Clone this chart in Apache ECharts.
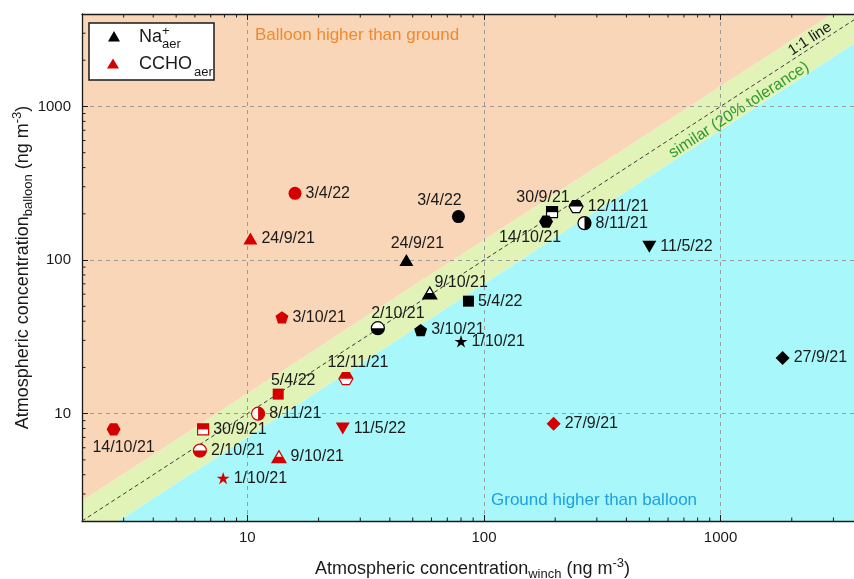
<!DOCTYPE html>
<html>
<head>
<meta charset="utf-8">
<script src="https://cdn.jsdelivr.net/npm/echarts@6/dist/echarts.min.js"></script>
<style>
html, body { margin: 0; padding: 0; background: #fff; }
#chart { width: 854px; height: 579px; }
</style>
</head>
<body>
<div id="chart"></div>
<script>
// sampling days, same order in every array below
var dates = ['24/9/21', '27/9/21', '30/9/21', '1/10/21', '2/10/21', '3/10/21', '9/10/21',
             '14/10/21', '8/11/21', '12/11/21', '3/4/22', '5/4/22', '11/5/22'];

// Na+ (ng m-3): winch vs balloon
var naWinch   = [47, 1830, 194, 80, 35.6, 54, 59, 183, 266, 245, 78, 86, 500];
var naBalloon = [100, 23, 205, 29.5, 36, 35, 61, 178, 174, 223, 192, 54, 122];

// CCHO (ng m-3): winch vs balloon
var cchoWinch   = [10.3, 197, 6.5, 7.9, 6.3, 14.0, 13.6, 2.72, 11.1, 26.1, 15.9, 13.5, 25.3];
var cchoBalloon = [138, 8.6, 7.9, 3.8, 5.75, 42.4, 5.25, 7.9, 10.0, 16.9, 272, 13.4, 8.0];

var axisMin = 2, axisMax = 4000;
var minorTicks = [3, 4, 5, 6, 7, 8, 9, 20, 30, 40, 50, 60, 70, 80, 90,
                  200, 300, 400, 500, 600, 700, 800, 900, 2000, 3000];
var bandUpper = 1.35, bandLower = 0.70;   // "similar" band around 1:1

var chart = echarts.init(document.getElementById('chart'));
var font = 'Liberation Sans, Arial, Helvetica, sans-serif';
var ink = '#1a1a1a';
var red = '#d40000';

// symbol paths, all in a 100x100 box (corner anchors keep the box)
var box = 'M0 0L0 0M100 100L100 100';
var hexPath = 'path://' + box + 'M100 50L75 93.3L25 93.3L0 50L25 6.7L75 6.7Z';
var pentPath = 'path://' + box + 'M50 3L99.5 39L80.6 97L19.4 97L0.5 39Z';
var starPath = 'path://' + box + 'M50 2L62 38L100 38L69 60L81 97L50 74L19 97L31 60L0 38L38 38Z';

var shapes = {
  circle:       { base: 'circle', size: 13 },
  rect:         { base: 'rect', size: 11 },
  triangle:     { base: 'triangle', size: [14, 12] },
  triangleDown: { base: 'triangle', size: [14, 12], rotate: 180 },
  diamond:      { base: 'diamond', size: 14 },
  star:         { base: starPath, size: 13 },
  pentagon:     { base: pentPath, size: 13 },
  hexagon:      { base: hexPath, size: 14 },
  halfRect:     { base: 'rect', size: 11, half: 'path://' + box + 'M0 0L100 0L100 50L0 50Z' },
  halfCircleB:  { base: 'circle', size: 13, half: 'path://' + box + 'M0 50A50 50 0 0 0 100 50Z' },
  halfCircleR:  { base: 'circle', size: 13, half: 'path://' + box + 'M50 0A50 50 0 0 1 50 100Z' },
  halfTriangle: { base: 'triangle', size: [14, 12], half: 'path://' + box + 'M25 50L75 50L100 100L0 100Z' },
  halfHexagon:  { base: hexPath, size: 14, half: 'path://' + box + 'M100 50L0 50L25 6.7L75 6.7Z' }
};

var markerOf = {
  '24/9/21': 'triangle', '27/9/21': 'diamond', '30/9/21': 'halfRect', '1/10/21': 'star',
  '2/10/21': 'halfCircleB', '3/10/21': 'pentagon', '9/10/21': 'halfTriangle',
  '14/10/21': 'hexagon', '8/11/21': 'halfCircleR', '12/11/21': 'halfHexagon',
  '3/4/22': 'circle', '5/4/22': 'rect', '11/5/22': 'triangleDown'
};

// label placement where it is not simply to the right
var labelPlace = {
  na: {
    '3/4/22':   { position: 'top', distance: 1, offset: [-19, 0] },
    '24/9/21':  { position: 'top', distance: 2, offset: [11, 0] },
    '9/10/21':  { position: 'right', distance: 4, offset: [-7, -10] },
    '2/10/21':  { position: 'top', distance: 0, offset: [20, 0] },
    '30/9/21':  { position: 'top', distance: 0, offset: [-9, 0] },
    '14/10/21': { position: 'bottom', distance: 1, offset: [-16, 0] }
  },
  ccho: {
    '12/11/21': { position: 'top', distance: 0, offset: [12, 0] },
    '5/4/22':   { position: 'top', distance: 0, offset: [15, 0] },
    '14/10/21': { position: 'bottom', distance: 3, offset: [10, 0] }
  }
};

function markerSeries(key, name, color, xs, ys) {
  var base = [], halves = [];
  dates.forEach(function (d, i) {
    var s = shapes[markerOf[d]];
    var lp = labelPlace[key][d] || { position: 'right', distance: 4, offset: [0, 0] };
    base.push({
      name: d,
      value: [xs[i], ys[i]],
      symbol: s.base,
      symbolSize: s.size,
      symbolRotate: s.rotate || 0,
      itemStyle: s.half ? { color: '#fff', borderColor: color, borderWidth: 1.2, opacity: 1 }
                        : { color: color, opacity: 1 },
      label: { position: lp.position, distance: lp.distance, offset: lp.offset }
    });
    if (s.half) {
      halves.push({ name: d, value: [xs[i], ys[i]], symbol: s.half, symbolSize: s.size });
    }
  });
  return [{
    type: 'scatter', name: name, data: base, z: 4,
    itemStyle: { opacity: 1 },
    label: { show: true, formatter: '{b}', color: ink, fontSize: 16, fontFamily: font }
  }, {
    type: 'scatter', name: name + ' fill', data: halves, z: 5, silent: true,
    itemStyle: { color: color, opacity: 1 }
  }];
}

var regionColors = ['#fad6b9', '#e1f3b7', '#a8f7fa'];
function regionPolygon(i) {
  var up = axisMax / bandUpper, lo = axisMin / bandLower;
  if (i === 0) return [[axisMin, axisMin * bandUpper], [up, axisMax], [axisMin, axisMax]];
  if (i === 1) return [[axisMin, axisMin], [axisMin, axisMin * bandUpper], [up, axisMax],
                       [axisMax, axisMax], [axisMax, axisMax * bandLower], [lo, axisMin]];
  return [[lo, axisMin], [axisMax, axisMax * bandLower], [axisMax, axisMin]];
}

var tickMinor = 3.5;
function tickLine(x1, y1, x2, y2) {
  return { type: 'line', shape: { x1: x1, y1: y1, x2: x2, y2: y2 }, style: { stroke: ink, lineWidth: 1 } };
}

var nameRich = {
  sub: { fontSize: 13, lineHeight: 13, verticalAlign: 'bottom', fontFamily: font, color: ink },
  sup: { fontSize: 13, lineHeight: 13, verticalAlign: 'top', fontFamily: font, color: ink }
};

function commonAxis() {
  return {
    type: 'log', logBase: 10, min: axisMin, max: axisMax,
    axisLine: { show: true, lineStyle: { color: ink, width: 1.3 } },
    axisTick: { show: true, inside: true, length: 6, lineStyle: { color: ink, width: 1 } },
    axisLabel: {
      showMinLabel: false, showMaxLabel: false, fontSize: 15, color: ink, fontFamily: font,
      formatter: function (v) { return String(Math.round(v)); }
    },
    splitLine: { show: true, showMinLine: false, showMaxLine: false,
                 lineStyle: { type: [4, 4], color: '#9a9a9a', width: 1 } }
  };
}

var xMain = commonAxis();
xMain.position = 'bottom';
xMain.axisLabel.margin = 9;
xMain.name = 'Atmospheric concentration{sub|winch} (ng m{sup|-3})';
xMain.nameLocation = 'middle';
xMain.nameGap = 36;
xMain.nameMoveOverlap = false;
xMain.nameTextStyle = { fontSize: 18, lineHeight: 24, fontFamily: font, color: ink, rich: nameRich };

var xTop = commonAxis();
xTop.position = 'top';
xTop.axisLabel = { show: false };
xTop.splitLine = { show: false };

var yMain = commonAxis();
yMain.position = 'left';
yMain.axisLabel.margin = 11;
yMain.name = 'Atmospheric concentration{sub|balloon} (ng m{sup|-3})';
yMain.nameLocation = 'middle';
yMain.nameRotate = 90;
yMain.nameGap = 47;
yMain.nameMoveOverlap = false;
yMain.nameTextStyle = { fontSize: 18, lineHeight: 24, fontFamily: font, color: ink, rich: nameRich };

var series = [{
  type: 'custom', name: 'regions', z: -1, silent: true,
  data: regionColors.map(function () { return [10, 10]; }),
  renderItem: function (params, api) {
    var pts = regionPolygon(params.dataIndex).map(function (p) { return api.coord(p); });
    return { type: 'polygon', shape: { points: pts }, style: { fill: regionColors[params.dataIndex] } };
  }
}, {
  type: 'line', name: '1:1', silent: true, z: 3, symbol: 'none',
  data: [[axisMin, axisMin], [axisMax, axisMax]],
  lineStyle: { type: [4, 3], color: '#3a3a3a', width: 1 }
}, {
  type: 'custom', name: 'minor ticks', z: 6, silent: true,
  data: minorTicks.map(function (v) { return [v, v]; }),
  renderItem: function (params, api) {
    var v = api.value(0);
    var b = api.coord([v, axisMin]);
    var t = api.coord([v, axisMax]);
    var l = api.coord([axisMin, v]);
    return { type: 'group', children: [
      tickLine(b[0], b[1], b[0], b[1] - tickMinor),
      tickLine(t[0], t[1], t[0], t[1] + tickMinor),
      tickLine(l[0], l[1], l[0] + tickMinor, l[1])
    ] };
  }
}];
series = series.concat(markerSeries('na', 'Na+aer', '#000000', naWinch, naBalloon));
series = series.concat(markerSeries('ccho', 'CCHOaer', red, cchoWinch, cchoBalloon));

var angle = Math.atan(153.6 / 236.4);

var option = {
  animation: false,
  backgroundColor: '#ffffff',
  grid: { left: 82, right: -9, top: 14, bottom: 58, outerBoundsMode: 'none', containLabel: false },
  xAxis: [xMain, xTop],
  yAxis: [yMain],
  series: series,
  graphic: [
    { type: 'text', z: 50, x: 255, y: 35,
      style: { text: 'Balloon higher than ground', font: '17px ' + font, fill: '#ee8a30', verticalAlign: 'middle' } },
    { type: 'text', z: 50, x: 491, y: 500,
      style: { text: 'Ground higher than balloon', font: '17px ' + font, fill: '#1e9fe3', verticalAlign: 'middle' } },
    { type: 'text', z: 50, x: 810, y: 39, rotation: angle,
      style: { text: '1:1 line', font: '15px ' + font, fill: ink, align: 'center', verticalAlign: 'middle' } },
    { type: 'text', z: 50, x: 739, y: 110, rotation: angle,
      style: { text: 'similar (20% tolerance)', font: '16px ' + font, fill: '#2f9a2f', align: 'center', verticalAlign: 'middle' } },
    // legend box
    { type: 'rect', z: 50, shape: { x: 89, y: 23, width: 125, height: 57 },
      style: { fill: '#ffffff', stroke: ink, lineWidth: 1.5 } },
    { type: 'polygon', z: 51, shape: { points: [[114, 31], [120, 41.5], [108, 41.5]] }, style: { fill: '#000' } },
    { type: 'polygon', z: 51, shape: { points: [[113, 58.5], [119, 68.5], [107, 68.5]] }, style: { fill: red } },
    { type: 'text', z: 51, x: 139, y: 37,
      style: { text: 'Na', font: '18px ' + font, fill: ink, verticalAlign: 'middle' } },
    { type: 'text', z: 51, x: 162, y: 31,
      style: { text: '+', font: '13px ' + font, fill: ink, verticalAlign: 'middle' } },
    { type: 'text', z: 51, x: 162, y: 44,
      style: { text: 'aer', font: '13px ' + font, fill: ink, verticalAlign: 'middle' } },
    { type: 'text', z: 51, x: 139, y: 64,
      style: { text: 'CCHO', font: '18px ' + font, fill: ink, verticalAlign: 'middle' } },
    { type: 'text', z: 51, x: 194, y: 72,
      style: { text: 'aer', font: '13px ' + font, fill: ink, verticalAlign: 'middle' } }
  ]
};

chart.setOption(option);
</script>
</body>
</html>
